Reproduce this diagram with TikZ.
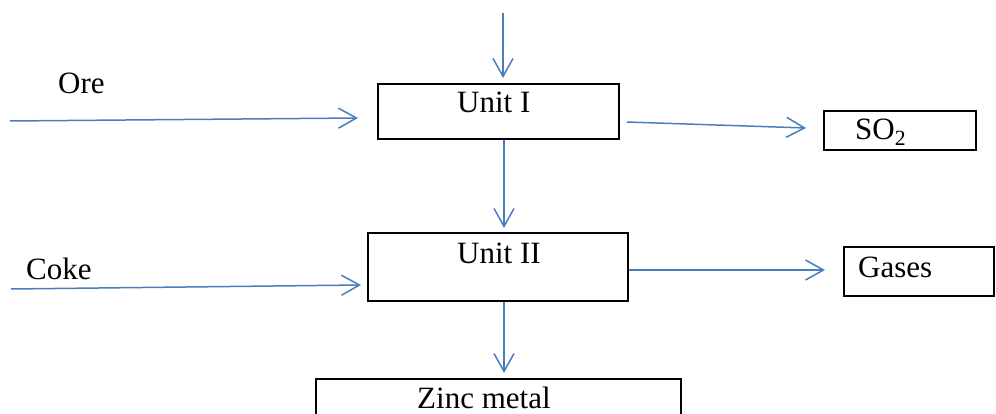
\documentclass[tikz,border=0pt]{standalone}
\usepackage{fontspec}
\setmainfont{Liberation Serif}
\usetikzlibrary{arrows.meta}
\definecolor{flowblue}{RGB}{74,126,187}
\begin{document}
\begin{tikzpicture}[x=1pt,y=-1pt,
  box/.style={draw=black, line width=2pt, anchor=north west, inner sep=0pt},
  tag/.style={anchor=base west, inner sep=0pt, font=\fontsize{31pt}{36pt}\selectfont},
  flow/.style={draw=flowblue, line width=1.5pt,
    -{Straight Barb[length=18pt,width=20pt,line width=1.5pt]}}]
\useasboundingbox (0,0) rectangle (996,414);

% process boxes
\node[box, minimum width=241pt, minimum height=55pt] (u1) at (377,83) {};
\node[box, minimum width=260pt, minimum height=68pt] (u2) at (367,232) {};
\node[box, minimum width=152pt, minimum height=39pt] (so2) at (823,110) {};
\node[box, minimum width=150pt, minimum height=49pt] (gas) at (843,246) {};
\node[box, minimum width=365pt, minimum height=60pt] (zinc) at (315,378) {};

% texts
\node[tag] (oret) at (58,94) {Ore};
\node[tag] (coket) at (26,279) {Coke};
\node[tag] (u1t) at (457,113) {Unit I};
\node[tag] (u2t) at (457,263) {Unit II};
\node[tag] (so2t) at (855,140) {SO\textsubscript{2}};
\node[tag] (gast) at (858,277) {Gases};
\node[tag] (zinct) at (417,408) {Zinc metal};

% free ends of the feed lines
\coordinate (feed) at (503,13);
\coordinate (orein) at (10,121);
\coordinate (cokein) at (11,289);

% flows
\draw[flow, shorten >=5pt] (feed) -- (feed |- u1.north);
\draw[flow] (orein) -- ([shift={(-19,6.5)}]u1.west);
\draw[flow] ([shift={(7,10.5)}]u1.east) -- ([shift={(-17,-2.5)}]so2.west);
\draw[flow, shorten >=4pt] ([xshift=5.5pt]u1.south) -- ([xshift=5.5pt]u1.south |- u2.north);
\draw[flow] (cokein) -- ([shift={(-6,18)}]u2.west);
\draw[flow] ([shift={(0,3)}]u2.east) -- ([shift={(-18,-1.5)}]gas.west);
\draw[flow, shorten >=5pt] ([xshift=6pt]u2.south) -- ([xshift=6pt]u2.south |- zinc.north);
\end{tikzpicture}
\end{document}
